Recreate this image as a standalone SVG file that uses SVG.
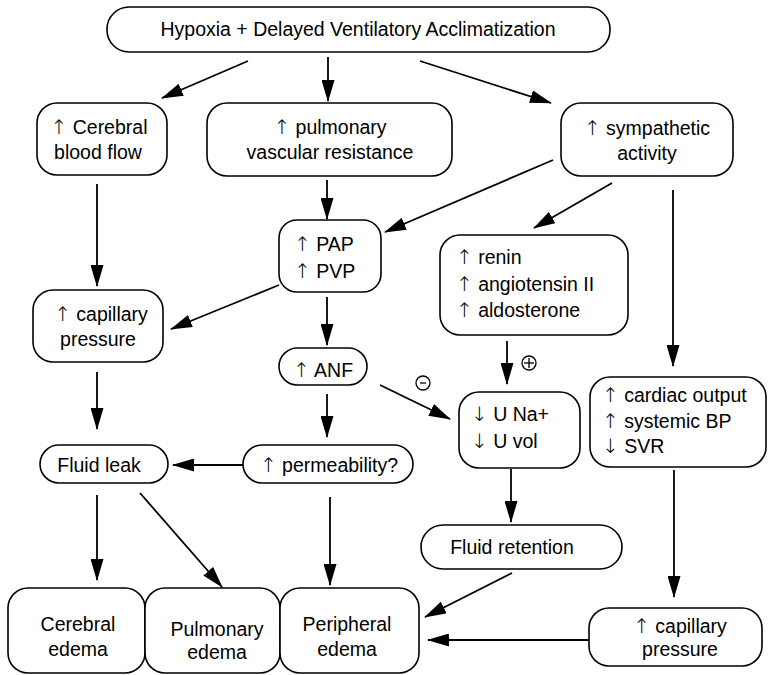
<svg xmlns="http://www.w3.org/2000/svg" width="769" height="675" viewBox="0 0 769 675">
  <style>
    .box { fill: #fff; stroke: #000; stroke-width: 1.6; }
    .t { font-family: "Liberation Sans", Arial, sans-serif; font-size: 19.5px; fill: #000; }
    .a { font-family: "DejaVu Sans", sans-serif; font-size: 20px; font-weight: 200; }
    .c { text-anchor: middle; }
    .edge { stroke: #000; stroke-width: 1.8; fill: none; marker-end: url(#ah); }
    .sign { fill: none; stroke: #000; stroke-width: 1.3; }
  </style>
  <defs>
    <marker id="ah" markerUnits="userSpaceOnUse" markerWidth="22" markerHeight="13" refX="21" refY="6.5" orient="auto">
      <path d="M0,0 L22,6.5 L0,13 Z" fill="#000"/>
    </marker>
  </defs>
  <rect width="769" height="675" fill="#fff"/>

  <!-- connectors -->
  <g id="connectors">
    <line class="edge" x1="248" y1="61" x2="162" y2="98"/>
    <line class="edge" x1="328" y1="57" x2="328" y2="101"/>
    <line class="edge" x1="420" y1="61" x2="551" y2="103"/>
    <line class="edge" x1="97" y1="184" x2="97" y2="286"/>
    <line class="edge" x1="327" y1="180" x2="327" y2="219"/>
    <line class="edge" x1="553" y1="160" x2="385" y2="232"/>
    <line class="edge" x1="612" y1="183" x2="534" y2="228"/>
    <line class="edge" x1="673" y1="190" x2="673" y2="366"/>
    <line class="edge" x1="279" y1="285" x2="171" y2="329"/>
    <line class="edge" x1="327" y1="297" x2="327" y2="345"/>
    <line class="edge" x1="97" y1="372" x2="97" y2="429"/>
    <line class="edge" x1="327" y1="394" x2="327" y2="437"/>
    <line class="edge" x1="380" y1="385" x2="450" y2="419"/>
    <line class="edge" x1="507" y1="341" x2="507" y2="384"/>
    <line class="edge" x1="243" y1="465" x2="173" y2="465"/>
    <line class="edge" x1="97" y1="495" x2="97" y2="580"/>
    <line class="edge" x1="140" y1="493" x2="222" y2="587"/>
    <line class="edge" x1="330" y1="497" x2="330" y2="585"/>
    <line class="edge" x1="511" y1="469" x2="511" y2="522"/>
    <line class="edge" x1="512" y1="573" x2="425" y2="617"/>
    <line class="edge" x1="674" y1="470" x2="674" y2="597"/>
    <line class="edge" x1="589" y1="640" x2="428" y2="640"/>
    <!-- inhibition / stimulation signs -->
    <circle class="sign" cx="423" cy="383" r="7"/>
    <line class="sign" x1="420" y1="383" x2="426" y2="383"/>
    <circle class="sign" cx="529" cy="363" r="7"/>
    <line class="sign" x1="524" y1="363" x2="534" y2="363"/>
    <line class="sign" x1="529" y1="358" x2="529" y2="368"/>
  </g>

  <g id="hypoxia">
    <rect class="box" x="107" y="7" width="503" height="45" rx="22"/>
    <text class="t c" x="358" y="36">Hypoxia + Delayed Ventilatory Acclimatization</text>
  </g>
  <g id="cerebral-flow">
    <rect class="box" x="37" y="103" width="130" height="72" rx="20"/>
    <text class="t c" x="99" y="134"><tspan class="a">↑</tspan> Cerebral</text>
    <text class="t c" x="98" y="159">blood flow</text>
  </g>
  <g id="pvr">
    <rect class="box" x="207" y="103" width="245" height="73" rx="20"/>
    <text class="t c" x="330" y="134"><tspan class="a">↑</tspan> pulmonary</text>
    <text class="t c" x="330" y="159">vascular resistance</text>
  </g>
  <g id="sympathetic">
    <rect class="box" x="561" y="103" width="172" height="73" rx="20"/>
    <text class="t c" x="647" y="135"><tspan class="a">↑</tspan> sympathetic</text>
    <text class="t c" x="647" y="160">activity</text>
  </g>
  <g id="pap-pvp">
    <rect class="box" x="279" y="220" width="102" height="72" rx="18"/>
    <text class="t" x="294" y="251"><tspan class="a">↑</tspan> PAP</text>
    <text class="t" x="294" y="278"><tspan class="a">↑</tspan> PVP</text>
  </g>
  <g id="raas">
    <rect class="box" x="440" y="235" width="188" height="100" rx="20"/>
    <text class="t" x="456" y="264"><tspan class="a">↑</tspan> renin</text>
    <text class="t" x="456" y="291"><tspan class="a">↑</tspan> angiotensin II</text>
    <text class="t" x="456" y="317"><tspan class="a">↑</tspan> aldosterone</text>
  </g>
  <g id="capillary-left">
    <rect class="box" x="33" y="290" width="130" height="72" rx="20"/>
    <text class="t c" x="101" y="321"><tspan class="a">↑</tspan> capillary</text>
    <text class="t c" x="98" y="346">pressure</text>
  </g>
  <g id="anf">
    <rect class="box" x="279" y="348" width="88" height="37" rx="18.5"/>
    <text class="t c" x="323" y="377"><tspan class="a">↑</tspan> ANF</text>
  </g>
  <g id="urine">
    <rect class="box" x="459" y="392" width="121" height="76" rx="20"/>
    <text class="t" x="471" y="421"><tspan class="a">↓</tspan> U Na+</text>
    <text class="t" x="471" y="448"><tspan class="a">↓</tspan> U vol</text>
  </g>
  <g id="cardiac">
    <rect class="box" x="590" y="377" width="176" height="90" rx="20"/>
    <text class="t" x="602" y="402"><tspan class="a">↑</tspan> cardiac output</text>
    <text class="t" x="602" y="428"><tspan class="a">↑</tspan> systemic BP</text>
    <text class="t" x="602" y="453"><tspan class="a">↓</tspan> SVR</text>
  </g>
  <g id="fluid-leak">
    <rect class="box" x="40" y="445" width="128" height="38" rx="19"/>
    <text class="t c" x="99" y="472">Fluid leak</text>
  </g>
  <g id="permeability">
    <rect class="box" x="243" y="445" width="170" height="38" rx="19"/>
    <text class="t c" x="329" y="472"><tspan class="a">↑</tspan> permeability?</text>
  </g>
  <g id="fluid-retention">
    <rect class="box" x="421" y="525" width="201" height="44" rx="22"/>
    <text class="t c" x="512" y="554">Fluid retention</text>
  </g>
  <g id="cerebral-edema">
    <rect class="box" x="8" y="588" width="137" height="85" rx="20"/>
    <text class="t c" x="78" y="631">Cerebral</text>
    <text class="t c" x="78" y="656">edema</text>
  </g>
  <g id="pulmonary-edema">
    <rect class="box" x="145" y="588" width="135" height="85" rx="20"/>
    <text class="t c" x="217" y="636">Pulmonary</text>
    <text class="t c" x="217" y="659">edema</text>
  </g>
  <g id="peripheral-edema">
    <rect class="box" x="280" y="588" width="139" height="85" rx="20"/>
    <text class="t c" x="347" y="631">Peripheral</text>
    <text class="t c" x="347" y="656">edema</text>
  </g>
  <g id="capillary-right">
    <rect class="box" x="589" y="608" width="173" height="58" rx="20"/>
    <text class="t c" x="680" y="633"><tspan class="a">↑</tspan> capillary</text>
    <text class="t c" x="680" y="656">pressure</text>
  </g>
</svg>
